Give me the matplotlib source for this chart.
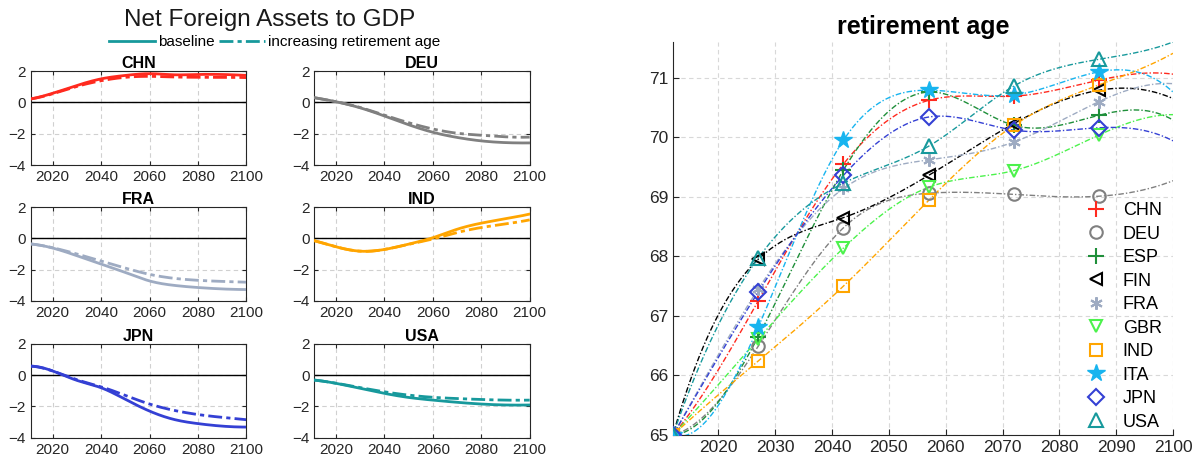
import numpy as np
import matplotlib
matplotlib.use('Agg')
import matplotlib.pyplot as plt
from matplotlib.lines import Line2D

plt.rcParams['font.family'] = ['Liberation Sans', 'DejaVu Sans']

# net foreign assets to GDP (left block)
nfa_years = [2011, 2020, 2030, 2040, 2050, 2060, 2070, 2080, 2090, 2100]
nfa_countries = ['CHN', 'DEU', 'FRA', 'IND', 'JPN', 'USA']
nfa_base = {
    'CHN': [0.22, 0.58, 1.08, 1.50, 1.72, 1.83, 1.76, 1.78, 1.78, 1.72],
    'DEU': [0.30, 0.04, -0.35, -0.87, -1.43, -1.91, -2.24, -2.46, -2.57, -2.59],
    'FRA': [-0.36, -0.62, -1.11, -1.65, -2.18, -2.72, -3.00, -3.14, -3.23, -3.27],
    'IND': [-0.15, -0.54, -0.82, -0.71, -0.37, 0.04, 0.58, 0.97, 1.25, 1.55],
    'JPN': [0.57, 0.26, -0.34, -0.81, -1.55, -2.30, -2.83, -3.10, -3.26, -3.32],
    'USA': [-0.32, -0.53, -0.85, -1.17, -1.43, -1.60, -1.74, -1.85, -1.91, -1.91],
}
nfa_reform = {
    'CHN': [0.22, 0.55, 1.02, 1.38, 1.60, 1.66, 1.62, 1.60, 1.60, 1.58],
    'DEU': [0.30, 0.04, -0.33, -0.82, -1.30, -1.70, -1.97, -2.10, -2.20, -2.22],
    'FRA': [-0.36, -0.60, -1.00, -1.45, -1.90, -2.30, -2.55, -2.68, -2.75, -2.80],
    'IND': [-0.15, -0.54, -0.82, -0.71, -0.38, -0.04, 0.37, 0.69, 0.92, 1.18],
    'JPN': [0.57, 0.26, -0.30, -0.75, -1.30, -1.85, -2.25, -2.52, -2.70, -2.85],
    'USA': [-0.32, -0.52, -0.80, -1.07, -1.28, -1.42, -1.50, -1.56, -1.60, -1.60],
}

# retirement age path (right block); markers every 15 years, series runs to 2100
ret_years = [2012, 2027, 2042, 2057, 2072, 2087, 2100]
ret_countries = ['CHN', 'DEU', 'ESP', 'FIN', 'FRA', 'GBR', 'IND', 'ITA', 'JPN', 'USA']
ret_age = {
    'CHN': [65, 67.25, 69.55, 70.62, 70.69, 70.96, 71.06],
    'DEU': [65, 66.49, 68.48, 69.06, 69.04, 69.01, 69.27],
    'ESP': [65, 66.65, 69.45, 70.76, 70.20, 70.37, 70.29],
    'FIN': [65, 67.95, 68.65, 69.36, 70.23, 70.79, 70.65],
    'FRA': [65, 67.45, 69.14, 69.62, 69.92, 70.60, 70.90],
    'GBR': [65, 66.61, 68.14, 69.16, 69.44, 70.04, 70.38],
    'IND': [65, 66.24, 67.50, 68.94, 70.20, 70.88, 71.41],
    'ITA': [65, 66.81, 69.95, 70.79, 70.71, 71.10, 70.76],
    'JPN': [65, 67.40, 69.36, 70.34, 70.12, 70.16, 69.94],
    'USA': [65, 67.97, 69.23, 69.85, 70.86, 71.31, 71.60],
}
n_marked = 6

colors = {
    'CHN': '#ff2a1f', 'DEU': '#808080', 'ESP': '#1f8f3a', 'FIN': '#000000',
    'FRA': '#9eabc2', 'GBR': '#4cf24c', 'IND': '#ffa500', 'ITA': '#17b4ef',
    'JPN': '#3440d4', 'USA': '#17999c',
}
markers = {
    'CHN': dict(marker='+', ms=11, mew=1.5),
    'DEU': dict(marker='o', ms=9, mew=1.5, mfc='none'),
    'ESP': dict(marker='+', ms=11, mew=1.5),
    'FIN': dict(marker='<', ms=9, mew=1.5, mfc='none'),
    'FRA': dict(marker=(6, 2, 0), ms=9, mew=1.5),
    'GBR': dict(marker='v', ms=9, mew=1.5, mfc='none'),
    'IND': dict(marker='s', ms=8, mew=1.5, mfc='none'),
    'ITA': dict(marker='*', ms=13, mew=1.0),
    'JPN': dict(marker='D', ms=8.5, mew=1.5, mfc='none'),
    'USA': dict(marker='^', ms=10, mew=1.5, mfc='none'),
}


def spline(x, y, xs):
    # cubic spline with not-a-knot ends
    x = np.asarray(x, float)
    y = np.asarray(y, float)
    n = len(x)
    h = np.diff(x)
    A = np.zeros((n, n))
    b = np.zeros(n)
    for i in range(1, n - 1):
        A[i, i - 1] = h[i - 1]
        A[i, i] = 2 * (h[i - 1] + h[i])
        A[i, i + 1] = h[i]
        b[i] = 6 * ((y[i + 1] - y[i]) / h[i] - (y[i] - y[i - 1]) / h[i - 1])
    A[0, :3] = [-1 / h[0], 1 / h[0] + 1 / h[1], -1 / h[1]]
    A[-1, -3:] = [-1 / h[-2], 1 / h[-2] + 1 / h[-1], -1 / h[-1]]
    M = np.linalg.solve(A, b)
    idx = np.clip(np.searchsorted(x, xs) - 1, 0, n - 2)
    x0, x1 = x[idx], x[idx + 1]
    hh = x1 - x0
    t0, t1 = x1 - xs, xs - x0
    return ((M[idx] * t0 ** 3 + M[idx + 1] * t1 ** 3) / (6 * hh)
            + (y[idx] / hh - M[idx] * hh / 6) * t0
            + (y[idx + 1] / hh - M[idx + 1] * hh / 6) * t1)


fig = plt.figure(figsize=(12, 4.63), dpi=100)

lefts = [0.0258, 0.2619]
bottoms = [0.6436, 0.3499, 0.0546]
teal = '#17999c'
xs_nfa = np.linspace(2011, 2100, 300)
for k, c in enumerate(nfa_countries):
    ax = fig.add_axes([lefts[k % 2], bottoms[k // 2], 0.1795, 0.203])
    ax.grid(True, color='#d0d0d0', linestyle=(0, (4, 3)), linewidth=0.8)
    ax.axhline(0, color='black', linewidth=1.0, zorder=2)
    ax.plot(xs_nfa, spline(nfa_years, nfa_base[c], xs_nfa), color=colors[c],
            linewidth=2.0, zorder=3)
    ax.plot(xs_nfa, spline(nfa_years, nfa_reform[c], xs_nfa), color=colors[c],
            linewidth=2.0, dashes=(5, 1.5, 1.5, 1.5), zorder=3)
    ax.set_xlim(2011, 2100)
    ax.set_ylim(-4, 2)
    ax.set_xticks([2020, 2040, 2060, 2080, 2100])
    ax.set_yticks([-4, -2, 0, 2])
    ax.tick_params(direction='in', length=3, labelsize=11, top=True, right=True,
                   colors='#262626', labelcolor='#262626')
    for s in ax.spines.values():
        s.set_color('#262626')
    ax.set_title(c, fontsize=11.5, fontweight='bold', pad=2)

fig.text(0.225, 0.957, 'Net Foreign Assets to GDP', ha='center', va='center',
         fontsize=17.5, color='#1a1a1a')
handles = [Line2D([], [], color=teal, linewidth=2.0),
           Line2D([], [], color=teal, linewidth=2.0, dashes=(5, 1.5, 1.5, 1.5))]
fig.legend(handles, ['baseline', 'increasing retirement age'], ncol=2,
           loc='center', bbox_to_anchor=(0.229, 0.909), frameon=False,
           fontsize=11, handlelength=3.0, handletextpad=0.2,
           columnspacing=0.3, borderpad=0, borderaxespad=0)

# retirement age panel
ax = fig.add_axes([0.5608, 0.0605, 0.4167, 0.8488])
xs_ret = np.linspace(2012, 2100, 400)
for c in ret_countries:
    ax.plot(xs_ret, spline(ret_years, ret_age[c], xs_ret), color=colors[c],
            linewidth=1.0, dashes=(4, 1.5, 1, 1.5), zorder=3)
    ax.plot(ret_years[:n_marked], ret_age[c][:n_marked], linestyle='none',
            color=colors[c], label=c, zorder=4, **markers[c])
ax.set_xlim(2012, 2100)
ax.set_ylim(65, 71.6)
ax.set_xticks(np.arange(2020, 2101, 10))
ax.set_yticks(np.arange(65, 72, 1))
ax.grid(True, color='#d8d8d8', linestyle=(0, (4, 3)), linewidth=0.8)
ax.spines['top'].set_visible(False)
ax.spines['right'].set_visible(False)
for s in ('left', 'bottom'):
    ax.spines[s].set_color('#262626')
ax.tick_params(direction='in', length=4, labelsize=12.5, colors='#262626')
ax.set_title('retirement age', fontsize=18, fontweight='bold', pad=6)
ax.legend(loc='lower right', bbox_to_anchor=(1.01, -0.03), frameon=False,
          fontsize=13, handletextpad=0.8, labelspacing=0.36, handlelength=1.4)

fig.savefig('out.png', dpi=100)
